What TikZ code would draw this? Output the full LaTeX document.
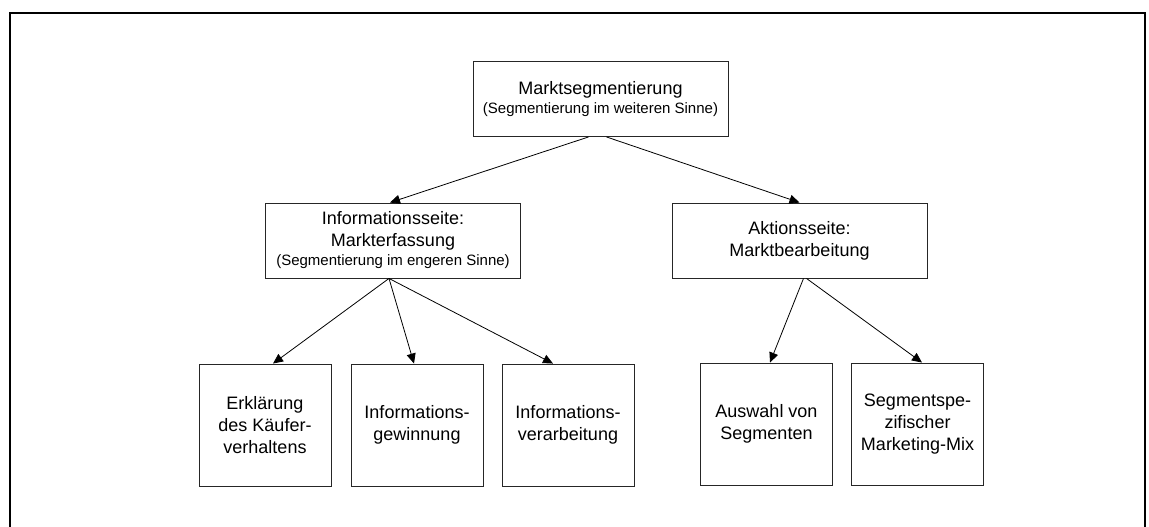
\documentclass[tikz,border=0pt]{standalone}
\usepackage{fontspec}
\setmainfont{Liberation Sans}
\usetikzlibrary{arrows.meta}

\begin{document}
\begin{tikzpicture}[x=1pt, y=-1pt, font=\fontsize{18}{22}\selectfont,
  box/.style={draw=black!85, line width=0.9pt, align=center, inner sep=0pt,
    minimum width=255pt, minimum height=75pt},
  leaf/.style={box, minimum width=132pt, minimum height=122pt},
  pfeil/.style={-{Triangle[length=10pt, width=9pt]}, line width=0.8pt},
  klein/.style={font=\fontsize{15}{18}\selectfont}]
  % coordinates in pixels of the original sheet, y pointing down
  \useasboundingbox (0,0) rectangle (1149,527);
  \draw[line width=2pt] (10,527) -- (10,13) -- (1145,13) -- (1145,527);

  \node[box] (seg) at (600.5,99) {Marktsegmentierung\\[-3pt]{\fontsize{15}{18}\selectfont(Segmentierung im weiteren Sinne)}};
  \node[box] (info) at (393,240.5) {Informationsseite:\\Markterfassung\\[-3pt]{\fontsize{15}{18}\selectfont(Segmentierung im engeren Sinne)}};
  \node[box] (aktion) at (799.5,240.5) {Aktionsseite:\\Marktbearbeitung};

  \node[leaf] (erkl) at (265,425) {Erkl\"arung\\des K\"aufer-\\verhaltens};
  \node[leaf] (gewinn) at (417,425) {Informations-\\gewinnung};
  \node[leaf] (verarb) at (568,425) {Informations-\\verarbeitung};
  \node[leaf] (auswahl) at (766.5,424) {Auswahl von\\Segmenten};
  \node[leaf] (mix) at (917.5,424) {Segmentspe-\\zifischer\\Marketing-Mix};

  \draw[pfeil] ([xshift=-12]seg.south) -- ([xshift=-3]info.north);
  \draw[pfeil] ([xshift=6]seg.south) -- (aktion.north);
  \draw[pfeil] ([xshift=-4]info.south) -- ([xshift=8]erkl.north);
  \draw[pfeil] ([xshift=-4]info.south) -- ([xshift=-3]gewinn.north);
  \draw[pfeil] ([xshift=-4]info.south) -- ([xshift=-15]verarb.north);
  \draw[pfeil] ([xshift=4]aktion.south) -- ([xshift=3.5]auswahl.north);
  \draw[pfeil] ([xshift=7]aktion.south) -- ([xshift=4.5]mix.north);
\end{tikzpicture}
\end{document}
